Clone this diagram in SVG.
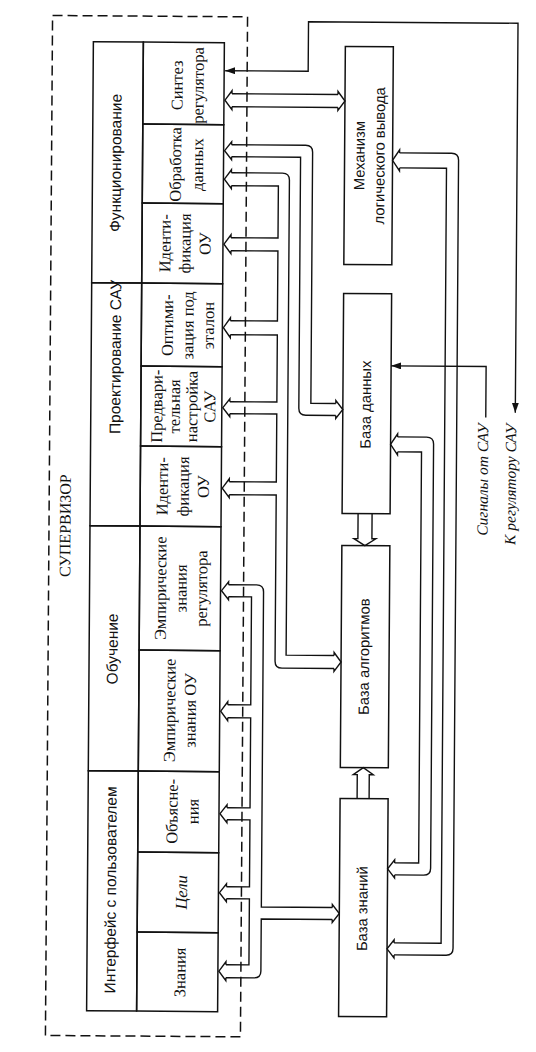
<svg xmlns="http://www.w3.org/2000/svg" width="536" height="1052" viewBox="0 0 536 1052">
<style>
.box{fill:none;stroke:#111;stroke-width:1.5}
.ln{fill:none;stroke:#111;stroke-width:1.4}
.dash{fill:none;stroke:#111;stroke-width:1.5;stroke-dasharray:10 5}
text{fill:#111;text-anchor:middle;dominant-baseline:central}
.gs{font-family:"Liberation Sans",Arial,sans-serif;font-size:15.5px}
.ss{font-family:"Liberation Serif","Times New Roman",serif;font-size:16.5px}
.si{font-family:"Liberation Serif","Times New Roman",serif;font-size:16.5px;font-style:italic}
.rs{font-family:"Liberation Sans",Arial,sans-serif;font-size:14.8px}
.lab{font-family:"Liberation Serif","Times New Roman",serif;font-size:15.5px;font-style:italic;text-anchor:end}
.sup{font-family:"Liberation Serif","Times New Roman",serif;font-size:16px}
</style>
<defs>
<marker id="fa" markerWidth="11" markerHeight="7" refX="10" refY="3.5" orient="auto-start-reverse" markerUnits="userSpaceOnUse">
<path d="M0,0 L10,3.5 L0,7 z" fill="#111"/>
</marker>
</defs>
<rect width="536" height="1052" fill="#fff"/>
<g transform="rotate(0.4 268 526)">
<g id="supervisor">
<rect class="dash" x="49" y="17" width="195" height="1020"/>
<text class="sup" transform="translate(65,527) rotate(-90)">СУПЕРВИЗОР</text>
</g>
<g id="grp-func">
<rect class="box" x="90" y="43" width="50" height="241"/>
<text class="gs" transform="translate(113,164) rotate(-90)">Функционирование</text>
</g>
<g id="grp-design">
<rect class="box" x="90" y="284" width="50" height="243"/>
<text class="gs" transform="translate(114,358) rotate(-90)">Проектирование САУ</text>
</g>
<g id="grp-learn">
<rect class="box" x="90" y="527" width="50" height="245"/>
<text class="gs" transform="translate(113,650) rotate(-90)">Обучение</text>
</g>
<g id="grp-ui">
<rect class="box" x="90" y="772" width="50" height="240"/>
<text class="gs" transform="translate(113,891) rotate(-90)">Интерфейс с пользователем</text>
</g>
<g id="synth">
<rect class="box" x="140" y="43" width="81" height="82"/>
<text class="ss" transform="translate(174,86) rotate(-90)">Синтез</text>
<text class="ss" transform="translate(195,86) rotate(-90)">регулятора</text>
</g>
<g id="dataproc">
<rect class="box" x="140" y="125" width="81" height="79"/>
<text class="ss" transform="translate(173,165) rotate(-90)">Обработка</text>
<text class="ss" transform="translate(195,165) rotate(-90)">данных</text>
</g>
<g id="ident1">
<rect class="box" x="140" y="204" width="81" height="80"/>
<text class="ss" transform="translate(163,244) rotate(-90)">Иденти-</text>
<text class="ss" transform="translate(183,244) rotate(-90)">фикация</text>
<text class="ss" transform="translate(203,244) rotate(-90)">ОУ</text>
</g>
<g id="optim">
<rect class="box" x="140" y="284" width="81" height="83"/>
<text class="ss" transform="translate(166,326) rotate(-90)">Оптими-</text>
<text class="ss" transform="translate(186.5,326) rotate(-90)">зация под</text>
<text class="ss" transform="translate(207,326) rotate(-90)">эталон</text>
</g>
<g id="pretune">
<rect class="box" x="140" y="367" width="81" height="80"/>
<text class="ss" transform="translate(156,407) rotate(-90)">Предвари-</text>
<text class="ss" transform="translate(173.5,407) rotate(-90)">тельная</text>
<text class="ss" transform="translate(191,407) rotate(-90)">настройка</text>
<text class="ss" transform="translate(209,407) rotate(-90)">САУ</text>
</g>
<g id="ident2">
<rect class="box" x="140" y="447" width="81" height="80"/>
<text class="ss" transform="translate(162,487) rotate(-90)">Иденти-</text>
<text class="ss" transform="translate(183,487) rotate(-90)">фикация</text>
<text class="ss" transform="translate(203,487) rotate(-90)">ОУ</text>
</g>
<g id="emp-reg">
<rect class="box" x="140" y="527" width="81" height="124"/>
<text class="ss" transform="translate(161,589) rotate(-90)">Эмпирические</text>
<text class="ss" transform="translate(181.5,589) rotate(-90)">знания</text>
<text class="ss" transform="translate(202,589) rotate(-90)">регулятора</text>
</g>
<g id="emp-ou">
<rect class="box" x="140" y="651" width="81" height="121"/>
<text class="ss" transform="translate(171,711) rotate(-90)">Эмпирические</text>
<text class="ss" transform="translate(191.5,711) rotate(-90)">знания ОУ</text>
</g>
<g id="explain">
<rect class="box" x="140" y="772" width="81" height="81"/>
<text class="ss" transform="translate(174,812) rotate(-90)">Объясне-</text>
<text class="ss" transform="translate(195,812) rotate(-90)">ния</text>
</g>
<g id="goals">
<rect class="box" x="140" y="853" width="81" height="80"/>
<text class="si" transform="translate(184,893) rotate(-90)">Цели</text>
</g>
<g id="knowledge">
<rect class="box" x="140" y="933" width="81" height="79"/>
<text class="ss" transform="translate(183,973) rotate(-90)">Знания</text>
</g>
<g id="inference">
<rect class="box" x="342" y="46" width="48" height="218"/>
<text class="rs" transform="translate(357,155) rotate(-90)">Механизм</text>
<text class="rs" transform="translate(377,155) rotate(-90)">логического вывода</text>
</g>
<g id="database">
<rect class="box" x="342" y="293" width="48" height="220"/>
<text class="rs" transform="translate(365,404) rotate(-90)">База данных</text>
</g>
<g id="algobase">
<rect class="box" x="342" y="545" width="48" height="222"/>
<text class="rs" transform="translate(365,656) rotate(-90)">База алгоритмов</text>
</g>
<g id="kbase">
<rect class="box" x="342" y="798" width="48" height="218"/>
<text class="rs" transform="translate(365,908) rotate(-90)">База знаний</text>
</g>
<g id="labels">
<text class="lab" transform="translate(482,422) rotate(-90)">Сигналы от САУ</text>
<text class="lab" transform="translate(510,422) rotate(-90)">К регулятору САУ</text>
</g>
<g id="connectors">
<path class="ln" d="M514.5,411 V21.5 H305 V71 H222" marker-start="url(#fa)" marker-end="url(#fa)"/>
<path class="ln" d="M485,416 V365 H390" marker-end="url(#fa)"/>
<path class="ln" d="M229,94 H335 M229,107 H335"/>
<path class="ln" d="M229,94 V91 L222,100.5 L229,110 V107 M335,94 V91 L342,100.5 L335,110 V107"/>
<path class="ln" d="M229,145 H303 Q310,145 310,152 V403 H335 M229,157 H298 V408 Q298,415 305,415 H335"/>
<path class="ln" d="M229,145 V142 L222,151 L229,160 V157 M335,403 V400 L342,409 L335,418 V415"/>
<path class="ln" d="M229,173 H280 Q287,173 287,180 V655 H335"/>
<path class="ln" d="M229,186 H276 V238 H229 M229,251 H276 V321 H229 M229,335 H276 V402 H229 M229,414 H276 V482 H229 M229,495 H276 V661 Q276,668 283,668 H335"/>
<path class="ln" d="M229,173 V170 L222,179.5 L229,189 V186 M229,238 V235 L222,244.5 L229,254 V251 M229,321 V318 L222,328 L229,338 V335 M229,402 V399 L222,408 L229,417 V414 M229,482 V479 L222,488.5 L229,498 V495 M335,655 V652 L342,661.5 L335,671 V668"/>
<path class="ln" d="M229,585 H257 Q264,585 264,592 V907 H335 M335,919 H264 V971 Q264,978 257,978 H229"/>
<path class="ln" d="M229,597 H252 V705 H229 M229,718 H252 V808 H229 M229,820 H252 V887 H229 M229,899 H252 V965 H229"/>
<path class="ln" d="M229,585 V582 L222,591 L229,600 V597 M229,705 V702 L222,711.5 L229,721 V718 M229,808 V805 L222,814 L229,823 V820 M229,887 V884 L222,893 L229,902 V899 M229,965 V962 L222,971.5 L229,981 V978 M335,907 V904 L342,913 L335,922 V919"/>
<path class="ln" d="M397,152 H449 Q456,152 456,159 V947 Q456,954 449,954 H397 M397,167 H444 V942 H397"/>
<path class="ln" d="M397,152 V149 L390,159.5 L397,170 V167 M397,942 V939 L390,948 L397,957 V954"/>
<path class="ln" d="M397,436 H426 Q433,436 433,443 V867 Q433,874 426,874 H397 M397,451 H421 V862 H397"/>
<path class="ln" d="M397,436 V433 L390,443.5 L397,454 V451 M397,862 V859 L390,868 L397,877 V874"/>
<path class="ln" d="M358,513 V538 H354 L365,545 L376,538 H372 V513"/>
<path class="ln" d="M359,798 V774 H355 L365,767 L375,774 H371 V798"/>
</g>
</g>
</svg>
